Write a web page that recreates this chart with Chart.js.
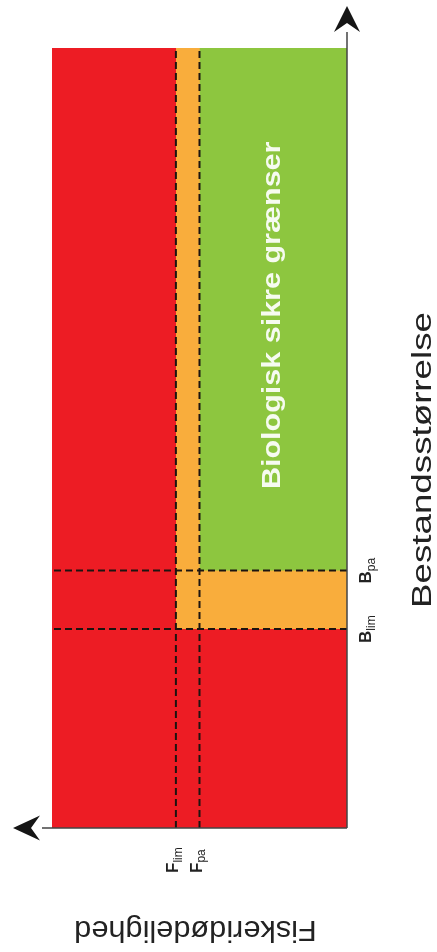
<!DOCTYPE html>
<html lang="da">
<head>
<meta charset="UTF-8">
<title>Biologisk sikre grænser</title>
<script src="https://cdn.jsdelivr.net/npm/chart.js"></script>
<style>
  html, body { margin: 0; padding: 0; background: #fff; }
  #wrap { width: 437px; height: 952px; }
</style>
</head>
<body>
<div id="wrap"><canvas id="pa" width="437" height="952"></canvas></div>
<script>
// akser: fiskeridødelighed (F, vandret, stiger mod venstre) og bestandsstørrelse (B, lodret)
const fAxis = [0, 1.0];
const bAxis = [0, 100];

// referencepunkter
const fRefNames = ['lim', 'pa'];
const fRefValues = [0.58, 0.50];
const bRefNames = ['lim', 'pa'];
const bRefValues = [25.5, 33];

// zoner: rød, orange, grøn
const zoneColors = ['#ed1c24', '#f9ad3c', '#8dc63f'];
const zoneFMax = [fAxis[1], fRefValues[0], fRefValues[1]];
const zoneBMin = [bAxis[0], bRefValues[0], bRefValues[1]];

const titleB = 'Bestandsstørrelse';
const titleF = 'Fiskeridødelighed';
const zoneText = 'Biologisk sikre grænser';

const datasets = [];
zoneColors.forEach((c, i) => {
    datasets.push({
        data: [{x: fAxis[0], y: bAxis[1]}, {x: zoneFMax[i], y: bAxis[1]}],
        fill: {value: zoneBMin[i]},
        backgroundColor: c,
        borderWidth: 0,
        pointRadius: 0,
        order: 10 - i
    });
});
const dashed = {borderColor: '#1c1410', borderWidth: 2, borderDash: [7, 4], pointRadius: 0, fill: false, order: 1};
fRefValues.forEach(v => datasets.push(Object.assign({
    data: [{x: v, y: bAxis[0]}, {x: v, y: bAxis[1]}]
}, dashed)));
bRefValues.forEach(v => datasets.push(Object.assign({
    data: [{x: fAxis[0], y: v}, {x: fAxis[1], y: v}]
}, dashed)));

// tekst med rotation og evt. strækning langs teksten
function label(ctx, text, x, y, angle, font, color, align, stretch) {
    ctx.save();
    ctx.translate(x, y);
    ctx.rotate(angle);
    ctx.scale(stretch || 1, 1);
    ctx.font = font;
    ctx.fillStyle = color;
    ctx.textAlign = align;
    ctx.textBaseline = 'alphabetic';
    ctx.fillText(text, 0, 0);
    ctx.restore();
}

// stort bogstav med sænket indeks, læses nedefra og op
function subLabel(ctx, main, sub, x, y, size, centered) {
    ctx.save();
    ctx.translate(x, y);
    ctx.rotate(-Math.PI / 2);
    ctx.fillStyle = '#222';
    ctx.textBaseline = 'alphabetic';
    ctx.textAlign = 'left';
    ctx.font = 'bold ' + size + 'px "Liberation Sans", Arial, sans-serif';
    const w1 = ctx.measureText(main).width;
    ctx.font = Math.round(size * 0.68) + 'px "Liberation Sans", Arial, sans-serif';
    const w2 = ctx.measureText(sub).width;
    const start = centered ? -(w1 + w2) / 2 : 0;
    ctx.font = 'bold ' + size + 'px "Liberation Sans", Arial, sans-serif';
    ctx.fillText(main, start, 0);
    ctx.font = Math.round(size * 0.68) + 'px "Liberation Sans", Arial, sans-serif';
    ctx.fillText(sub, start + w1, size * 0.22);
    ctx.restore();
}

function arrow(ctx, pts) {
    ctx.beginPath();
    ctx.moveTo(pts[0][0], pts[0][1]);
    for (let i = 1; i < pts.length; i++) ctx.lineTo(pts[i][0], pts[i][1]);
    ctx.closePath();
    ctx.fill();
}

const decorations = {
    id: 'decorations',
    afterDatasetsDraw(chart) {
        const ctx = chart.ctx;
        const {left, right, top, bottom} = chart.chartArea;
        const xs = chart.scales.x, ys = chart.scales.y;

        // akselinjer og pile
        ctx.save();
        ctx.strokeStyle = '#444';
        ctx.lineWidth = 1.5;
        ctx.beginPath();
        ctx.moveTo(right, bottom);
        ctx.lineTo(right, top - 16);
        ctx.moveTo(right, bottom);
        ctx.lineTo(left - 10, bottom);
        ctx.stroke();
        ctx.fillStyle = '#151515';
        arrow(ctx, [[right, top - 42], [right + 13, top - 16], [right, top - 25], [right - 13, top - 16]]);
        arrow(ctx, [[left - 39, bottom], [left - 12, bottom - 12.5], [left - 21, bottom], [left - 12, bottom + 12.5]]);
        ctx.restore();

        // referencepunkter
        bRefValues.forEach((v, i) => {
            subLabel(ctx, 'B', bRefNames[i], right + 24, ys.getPixelForValue(v), 17, true);
        });
        fRefValues.forEach((v, i) => {
            subLabel(ctx, 'F', fRefNames[i], xs.getPixelForValue(v) + 2, bottom + 45, 17, false);
        });

        // zonetekst midt i det grønne felt
        const gx = (xs.getPixelForValue(fAxis[0]) + xs.getPixelForValue(fRefValues[1])) / 2;
        const gy = (ys.getPixelForValue(bAxis[1]) + ys.getPixelForValue(bRefValues[1])) / 2;
        label(ctx, zoneText, gx + 7, gy + 6, -Math.PI / 2,
            'bold 25px "Liberation Sans", Arial, sans-serif', 'rgba(255,255,255,0.92)', 'center', 1.22);

        // aksetitler
        label(ctx, titleB, right + 84, (top + bottom) / 2 + 22, -Math.PI / 2,
            '27px "Liberation Sans", Arial, sans-serif', '#222', 'center', 1.36);
        label(ctx, titleF, (left + right) / 2 - 4, bottom + 93, Math.PI,
            '29px "Liberation Sans", Arial, sans-serif', '#222', 'center', 1.06);
    }
};

new Chart(document.getElementById('pa'), {
    type: 'line',
    data: {datasets: datasets},
    options: {
        responsive: false,
        animation: false,
        layout: {padding: {left: 52, right: 90, top: 48, bottom: 124}},
        scales: {
            x: {type: 'linear', reverse: true, min: fAxis[0], max: fAxis[1], display: false},
            y: {type: 'linear', min: bAxis[0], max: bAxis[1], display: false}
        },
        plugins: {legend: {display: false}, tooltip: {enabled: false}}
    },
    plugins: [decorations]
});
</script>
</body>
</html>
